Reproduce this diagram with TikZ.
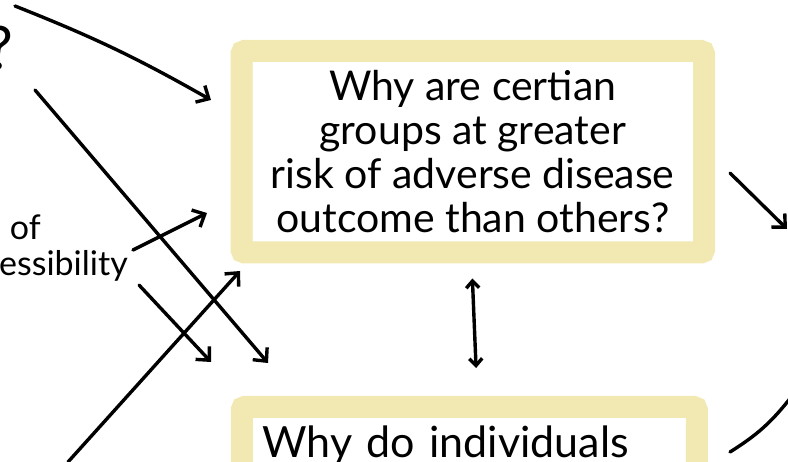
\documentclass[tikz,border=0pt]{standalone}
\usepackage{fontspec}
\setmainfont{Lato}
\usetikzlibrary{arrows.meta}
\definecolor{boxyellow}{RGB}{241,233,177}
\tikzset{qbox/.style={draw=boxyellow, line width=22pt, rounded corners=3pt, fill=white, inner sep=0pt}}
\tikzset{arc/.style={line width=3.4pt, line cap=round, line join=round, -{Straight Barb[length=10pt,width=19pt]}}}
\tikzset{twoarc/.style={arc, {Straight Barb[length=7pt,width=13pt]}-{Straight Barb[length=7pt,width=13pt]}}}
\tikzset{lbl/.style={inner sep=0pt, font=\fontsize{34}{38}\selectfont}}

\begin{document}
\begin{tikzpicture}[x=1pt,y=-1pt]
\useasboundingbox (0,0) rectangle (788,462);
\node (risk) at (472.75,151.75)[qbox, minimum width=462.5pt, minimum height=201.5pt, align=center, font=\fontsize{41}{44}\selectfont]{Why are certian\\groups at greater\\risk of adverse disease\\outcome than others?};
\node (indiv) at (469.25,396)[qbox, anchor=north, inner xsep=20.5pt, text width=414pt, align=left, text height=50pt, text depth=120pt, font=\fontsize{43}{48}\selectfont]{Why do individuals};

% labels cut at the left edge
\node (qmark) at (14,70)[lbl, anchor=base east, font=\fontsize{60}{66}\selectfont]{?};
\node (ofw) at (41,240)[lbl, anchor=base east]{of};
\node (essw) at (128,276)[lbl, anchor=base east]{essibility};

% free ends
\coordinate (p1) at (15,6);
\coordinate (p2) at (211,100);
\coordinate (p3) at (35,90);
\coordinate (p4) at (268,363);
\coordinate (p5) at (133,250);
\coordinate (p6) at (207,213);
\coordinate (p7) at (139,285);
\coordinate (p8) at (211,362);
\coordinate (p9) at (68,462);
\coordinate (p10) at (240,271);
\coordinate (p11) at (730,173);
\coordinate (p12) at (787,229);
\coordinate (p13) at (730,452);
\coordinate (p14) at (792,396);

\draw[arc] (p1) to[bend left=4] (p2);
\draw[arc] (p3) -- (p4);
\draw[arc] (p5) -- (p6);
\draw[arc] (p7) -- (p8);
\draw[arc] (p9) -- (p10);
\draw[twoarc, shorten <=15pt, shorten >=28pt] ([xshift=-1pt]risk.south) -- ([xshift=8pt]indiv.north);
\draw[arc] (p11) -- (p12);
\draw[line width=3.4pt, line cap=round] (p13) to[bend right=10] (p14);
\end{tikzpicture}
\end{document}
